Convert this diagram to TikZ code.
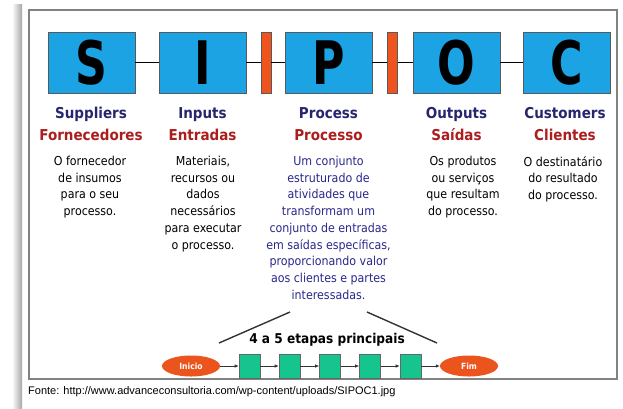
\documentclass[tikz,border=0pt]{standalone}
\usepackage{fontspec}
\setmainfont{DejaVu Sans Condensed}
\newfontfamily\arialfont{Liberation Sans}
\usetikzlibrary{arrows.meta,shapes.geometric}
\definecolor{boxblue}{RGB}{27,163,228}
\definecolor{barorange}{RGB}{240,84,30}
\definecolor{navytxt}{RGB}{38,38,110}
\definecolor{redtxt}{RGB}{172,30,30}
\definecolor{procblue}{RGB}{40,40,140}
\definecolor{stepgreen}{RGB}{22,196,142}
\definecolor{ellorange}{RGB}{236,84,30}
\definecolor{framegray}{RGB}{130,130,130}
\newcommand{\bigletter}[1]{\scalebox{0.82}[1]{#1}}
\begin{document}
\begin{tikzpicture}[x=1pt,y=-1pt,
  letterbox/.style={draw=black!65,line width=0.8pt,fill=boxblue,minimum width=87pt,minimum height=61pt,inner sep=0pt,
     font=\bfseries\fontsize{60}{60}\selectfont},
  bar/.style={draw=black!65,line width=0.8pt,fill=barorange,minimum width=10pt,minimum height=61pt,inner sep=0pt},
  link/.style={line width=1.2pt,black},
  title/.style={align=center,inner sep=0pt,font=\bfseries\fontsize{15}{22}\selectfont},
  desc/.style={align=center,inner sep=0pt,anchor=north,font=\fontsize{12.3}{16.7}\selectfont},
  stepbox/.style={draw=black!60,line width=0.6pt,fill=stepgreen,minimum width=21pt,minimum height=24pt,inner sep=0pt},
  endell/.style={ellipse,draw=none,fill=ellorange,minimum width=58pt,minimum height=21pt,inner sep=0pt,
     text=white,font=\bfseries\fontsize{8.5}{9}\selectfont},
  chain/.style={line width=0.7pt,black!80,-{Latex[length=4pt,width=3.5pt]}},
  brace/.style={line width=1.4pt,black!80}
]
\path[use as bounding box] (0,0) rectangle (623,408);
\shade[left color=white,right color=black!35] (12,4) rectangle (22,408);
\draw[framegray,line width=1.5pt,fill=white] (29,10) rectangle (617,379);

% letter boxes
\node[letterbox] (S) at (91.5,62.5) {\bigletter{S}};
\node[letterbox] (I) at (202.5,62.5) {\bigletter{I}};
\node[bar] (b1) at (266,62.5) {};
\node[letterbox] (P) at (328.5,62.5) {\bigletter{P}};
\node[bar] (b2) at (392.5,62.5) {};
\node[letterbox] (O) at (456.5,62.5) {\bigletter{O}};
\node[letterbox] (C) at (567,62.5) {\bigletter{C}};
\draw[link] (S) -- (I);
\draw[link] (I) -- (b1);
\draw[link] (b1) -- (P);
\draw[link] (P) -- (b2);
\draw[link] (b2) -- (O);
\draw[link] (O) -- (C);

% titles
\node[title] (tS) at (91,124) {\textcolor{navytxt}{Suppliers}\\\textcolor{redtxt}{Fornecedores}};
\node[title] (tI) at (202.5,124) {\textcolor{navytxt}{Inputs}\\\textcolor{redtxt}{Entradas}};
\node[title] (tP) at (328.5,124) {\textcolor{navytxt}{Process}\\\textcolor{redtxt}{Processo}};
\node[title] (tO) at (456.5,124) {\textcolor{navytxt}{Outputs}\\\textcolor{redtxt}{Saídas}};
\node[title] (tC) at (565,124) {\textcolor{navytxt}{Customers}\\\textcolor{redtxt}{Clientes}};

% descriptions
\node[desc] (dS) at (90,156) {O fornecedor\\de insumos\\para o seu\\processo.};
\node[desc] (dI) at (203,156) {Materiais,\\recursos ou\\dados\\necessários\\para executar\\o processo.};
\node[desc,text=procblue] (dP) at (328.5,156) {Um conjunto\\estruturado de\\atividades que\\transformam um\\conjunto de entradas\\em saídas específicas,\\proporcionando valor\\aos clientes e partes\\interessadas.};
\node[desc] (dO) at (463,156) {Os produtos\\ou serviços\\que resultam\\do processo.};
\node[desc] (dC) at (563,156) {O destinatário\\do resultado\\do processo.};

% lower part
\coordinate (l1) at (219,343);
\coordinate (l2) at (290,312);
\coordinate (r1) at (367,312);
\coordinate (r2) at (437,343);
\draw[brace] (l1) -- (l2);
\draw[brace] (r1) -- (r2);
\node[inner sep=0pt,font=\bfseries\fontsize{13.5}{14}\selectfont] (et) at (327,340) {4 a 5 etapas principais};

\node[endell] (ini) at (191,366) {Inicio};
\node[stepbox] (s1) at (249.5,366) {};
\node[stepbox] (s2) at (289.5,366) {};
\node[stepbox] (s3) at (330,366) {};
\node[stepbox] (s4) at (370,366) {};
\node[stepbox] (s5) at (410.5,366) {};
\node[endell] (fim) at (469,366) {Fim};
\draw[chain] (ini) -- (s1);
\draw[chain] (s1) -- (s2);
\draw[chain] (s2) -- (s3);
\draw[chain] (s3) -- (s4);
\draw[chain] (s4) -- (s5);
\draw[chain] (s5) -- (fim);

\node[anchor=west,inner sep=0pt,font=\arialfont\fontsize{11}{12}\selectfont] (src) at (28,392)
  {Fonte: http://www.advanceconsultoria.com/wp-content/uploads/SIPOC1.jpg};
\end{tikzpicture}
\end{document}
